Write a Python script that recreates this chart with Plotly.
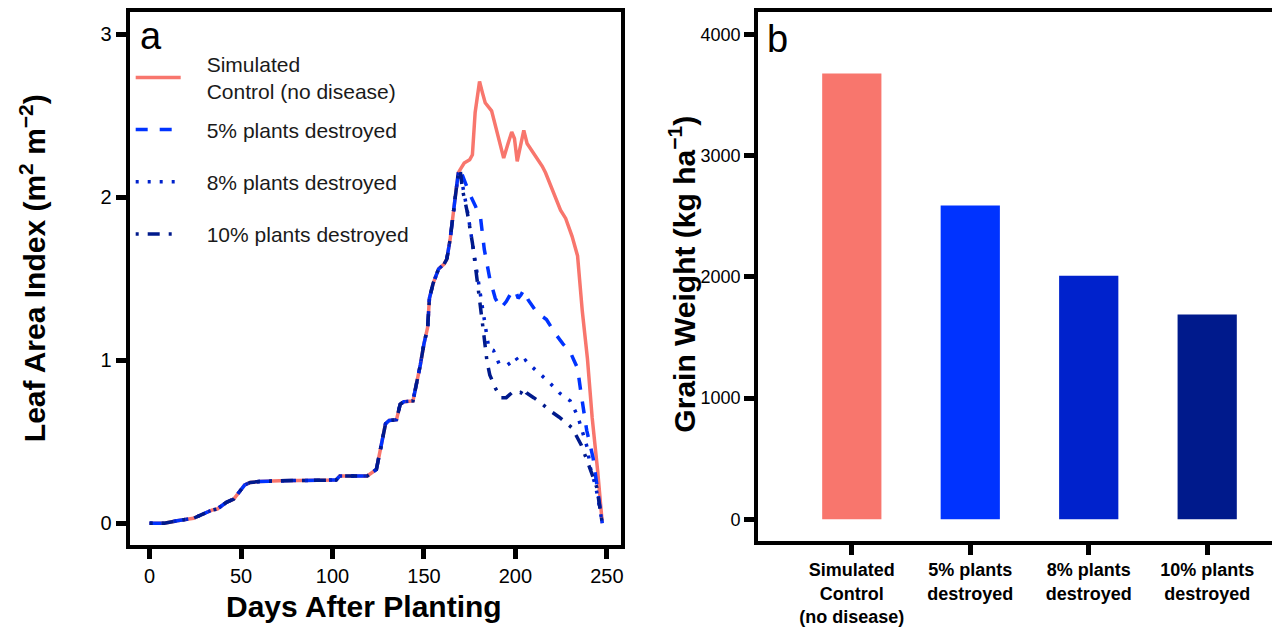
import plotly.graph_objects as go

# ---------------- data ----------------
# shared part of all LAI curves (until disease onset)
days_common = [0, 8, 15, 24, 28, 31, 34, 37, 40, 42, 46, 49, 52, 55, 60, 71, 100, 102, 104,
               119, 124, 127, 129, 131, 135, 137, 139, 144, 146, 148, 150, 152, 153, 155,
               158, 161, 162.5, 164.3, 167, 168.8, 169.8]
lai_common = [0.00, 0.00, 0.015, 0.03, 0.05, 0.067, 0.08, 0.087, 0.11, 0.128, 0.148, 0.19, 0.235,
              0.25, 0.255, 0.26, 0.26, 0.265, 0.29, 0.29, 0.33, 0.50, 0.61, 0.63, 0.635, 0.73,
              0.745, 0.75, 0.85, 0.97, 1.10, 1.20, 1.38, 1.47, 1.56, 1.59, 1.62, 1.74, 1.99,
              2.15, 2.17]

days_control_tail = [172, 175, 176.5, 178, 180.4, 182, 183.5, 187, 190, 193.6, 196, 198, 199.5,
                     201, 202.5, 204.6, 206.4, 210, 214.7, 216.5, 220, 224.7, 227.5, 231, 234,
                     236.6, 239.4, 242, 245, 247.5]
lai_control_tail = [2.21, 2.23, 2.26, 2.52, 2.71, 2.64, 2.58, 2.53, 2.40, 2.24, 2.33, 2.40, 2.36,
                    2.22, 2.30, 2.41, 2.33, 2.27, 2.19, 2.15, 2.05, 1.92, 1.87, 1.76, 1.64, 1.30,
                    1.01, 0.646, 0.32, 0.0]

days_5_tail = [172, 175, 178, 181, 183, 186, 189, 192, 195, 198, 200, 201.5, 203, 204.5, 207,
               212, 217, 222, 226, 230, 232, 234, 236, 239, 242.5, 245.5, 247.5]
lai_5_tail = [2.10, 2.02, 1.95, 1.87, 1.68, 1.50, 1.38, 1.32, 1.36, 1.42, 1.43, 1.38, 1.40, 1.43,
              1.37, 1.29, 1.25, 1.16, 1.10, 1.05, 1.00, 0.95, 0.79, 0.57, 0.40, 0.18, 0.0]

days_8_tail = [171, 174, 177, 180, 182, 184.5, 185.5, 188, 191, 195.5, 198, 200, 202.5, 205.5,
               208, 212, 218, 224, 230, 234, 236.6, 239.4, 241, 244, 246, 247.5]
lai_8_tail = [2.08, 1.90, 1.68, 1.47, 1.33, 1.15, 1.07, 1.06, 0.98, 0.97, 0.99, 1.02, 0.98, 1.00,
              0.97, 0.93, 0.87, 0.80, 0.75, 0.66, 0.565, 0.46, 0.34, 0.22, 0.10, 0.0]

days_10_tail = [171, 173.5, 176.5, 179, 181, 182.5, 184.5, 186, 189, 192, 195, 198, 201, 203,
                204.6, 206, 210, 213.7, 219, 224, 231, 236, 240, 244.5, 247.5]
lai_10_tail = [2.05, 1.92, 1.72, 1.50, 1.33, 1.18, 0.99, 0.91, 0.83, 0.77, 0.77, 0.80, 0.81, 0.80,
               0.83, 0.80, 0.77, 0.74, 0.69, 0.65, 0.585, 0.48, 0.36, 0.22, 0.0]

series_names = ["Simulated<br>Control (no disease)", "5% plants destroyed",
                "8% plants destroyed", "10% plants destroyed"]
series_colors = ["#F8766D", "#0033FF", "#0022CC", "#001A8C"]
series_dash = ["solid", "12px,12px", "3px,9px", "3px,9px,12px,9px"]

bar_categories = ["Simulated<br>Control<br>(no disease)", "5% plants<br>destroyed",
                  "8% plants<br>destroyed", "10% plants<br>destroyed"]
grain_weight = [3680, 2590, 2010, 1690]

x_ticks_a = [0, 50, 100, 150, 200, 250]
y_ticks_a = [0, 1, 2, 3]
y_ticks_b = [0, 1000, 2000, 3000, 4000]

# ---------------- figure ----------------
W, H = 1275, 627
FONT = "Liberation Sans, Arial, Helvetica, sans-serif"
GAP = "\u2003"  # space between legend symbol and its text


def fx(p):
    return p / W


def fy(p):
    return 1 - p / H


def legend_label(name):
    return "<br>".join(GAP + part for part in name.split("<br>"))


fig = go.Figure()

curves = [
    (days_common + days_control_tail, lai_common + lai_control_tail),
    (days_common + days_5_tail, lai_common + lai_5_tail),
    (days_common + days_8_tail, lai_common + lai_8_tail),
    (days_common + days_10_tail, lai_common + lai_10_tail),
]
for i, (xs, ys) in enumerate(curves):
    fig.add_trace(go.Scatter(
        x=xs, y=ys, mode="lines", name=legend_label(series_names[i]),
        line=dict(color=series_colors[i], width=3.5, dash=series_dash[i]),
        xaxis="x", yaxis="y",
        legend="legend" if i == 0 else "legend2",
        legendgroup="g%d" % i,
    ))

fig.add_trace(go.Bar(
    x=bar_categories, y=grain_weight, marker=dict(color=series_colors, line=dict(width=0)),
    width=0.5, xaxis="x2", yaxis="y2", showlegend=False,
))

axis_common = dict(
    showline=True, linecolor="black", linewidth=4, ticks="outside", ticklen=10,
    tickwidth=5, tickcolor="black", showgrid=False, zeroline=False,
)

fig.update_layout(
    width=W, height=H, margin=dict(l=0, r=0, t=0, b=0),
    paper_bgcolor="white", plot_bgcolor="white",
    font=dict(family=FONT, color="black"),
    xaxis=dict(domain=[fx(130), fx(622)], range=[-10.9, 257.5], tickvals=x_ticks_a,
               mirror=True, anchor="y", tickfont=dict(size=20), **axis_common),
    yaxis=dict(domain=[fy(549), fy(12.5)], range=[-0.137, 3.134], tickvals=y_ticks_a,
               mirror=True, anchor="x", tickfont=dict(size=20), **axis_common),
    xaxis2=dict(domain=[fx(760), 1.0], range=[-0.79, 3.547], type="category",
                mirror=True, anchor="y2",
                tickfont=dict(size=18, weight="bold"), **axis_common),
    yaxis2=dict(domain=[fy(544), fy(12.5)], range=[-176, 4184], tickvals=y_ticks_b,
                mirror=False, anchor="x2", tickfont=dict(size=18), **axis_common),
    legend=dict(x=fx(131), y=fy(44), xanchor="left", yanchor="top",
                bgcolor="rgba(0,0,0,0)", font=dict(size=21, color="#1a1a1a"),
                itemwidth=45, valign="middle"),
    legend2=dict(x=fx(131), y=fy(110), xanchor="left", yanchor="top",
                 bgcolor="rgba(0,0,0,0)", font=dict(size=21, color="#1a1a1a"),
                 itemwidth=45, traceorder="grouped", tracegroupgap=22),
    showlegend=True,
    annotations=[
        dict(text="a", x=fx(151), y=fy(36), xref="paper", yref="paper", showarrow=False,
             font=dict(size=38), xanchor="center", yanchor="middle"),
        dict(text="b", x=fx(779), y=fy(39), xref="paper", yref="paper", showarrow=False,
             font=dict(size=38), xanchor="center", yanchor="middle"),
        dict(text="<b>Days After Planting</b>", x=fx(365), y=fy(610), xref="paper",
             yref="paper", showarrow=False, font=dict(size=30),
             xanchor="center", yanchor="middle"),
        dict(text="<b>Leaf Area Index (m<sup>2</sup> m<sup>\u22122</sup>)</b>", x=fx(33),
             y=fy(270), xref="paper", yref="paper", showarrow=False, textangle=-90,
             font=dict(size=30), xanchor="center", yanchor="middle"),
        dict(text="<b>Grain Weight (kg ha<sup>\u22121</sup>)</b>", x=fx(684), y=fy(276),
             xref="paper", yref="paper", showarrow=False, textangle=-90,
             font=dict(size=30), xanchor="center", yanchor="middle"),
    ],
)

fig.write_html("out.html")
